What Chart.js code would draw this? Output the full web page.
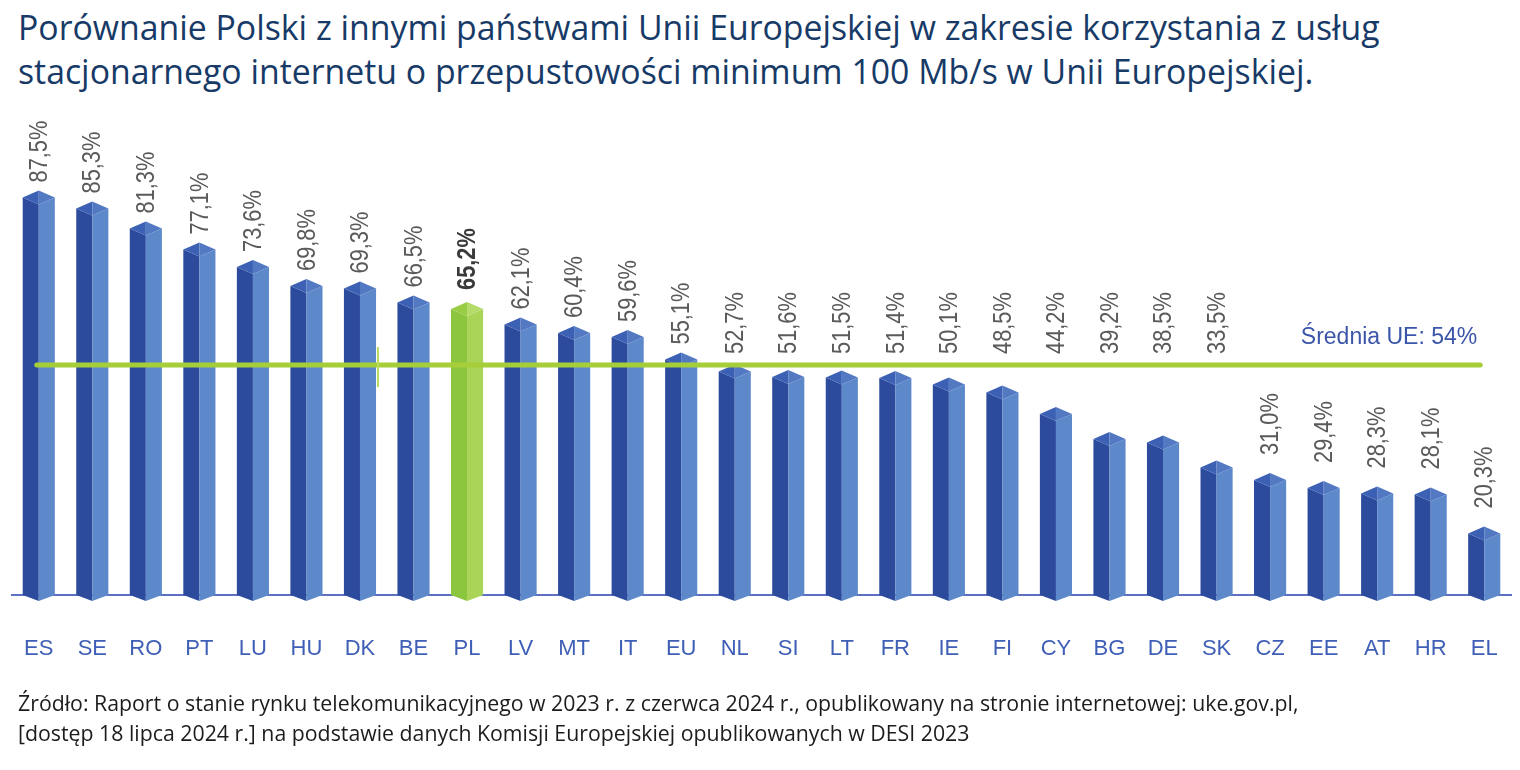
<!DOCTYPE html>
<html lang="pl">
<head>
<meta charset="utf-8">
<script src="https://cdn.jsdelivr.net/npm/chart.js@4/dist/chart.umd.min.js"></script>
<style>
  body { margin: 0; background: #fff; }
  #wrap { position: relative; width: 1520px; height: 770px; overflow: hidden; }
  #chart { position: absolute; left: 0; top: 0; }
  .title {
    position: absolute; left: 18px; top: 5px;
    font-family: "Open Sans", sans-serif; font-size: 33.8px; line-height: 44px;
    color: #173a67; white-space: nowrap;
  }
  .source {
    position: absolute; left: 18px; top: 688px;
    font-family: "Open Sans", sans-serif; font-size: 21.3px; line-height: 30px;
    color: #1c1c1c; white-space: nowrap;
  }
</style>
</head>
<body>
<div id="wrap">
  <div class="title">Porównanie Polski z innymi państwami Unii Europejskiej w zakresie korzystania z usług<br>stacjonarnego internetu o przepustowości minimum 100 Mb/s w Unii Europejskiej.</div>
  <canvas id="chart" width="1520" height="770"></canvas>
  <div class="source">Źródło: Raport o stanie rynku telekomunikacyjnego w 2023 r. z czerwca 2024 r., opublikowany na stronie internetowej: uke.gov.pl,<br>[dostęp 18 lipca 2024 r.] na podstawie danych Komisji Europejskiej opublikowanych w DESI 2023</div>
</div>
<script>
// dane
const countries = ['ES', 'SE', 'RO', 'PT', 'LU', 'HU', 'DK', 'BE', 'PL', 'LV', 'MT', 'IT', 'EU', 'NL',
  'SI', 'LT', 'FR', 'IE', 'FI', 'CY', 'BG', 'DE', 'SK', 'CZ', 'EE', 'AT', 'HR', 'EL'];
const shares = [87.5, 85.3, 81.3, 77.1, 73.6, 69.8, 69.3, 66.5, 65.2, 62.1, 60.4, 59.6, 55.1, 52.7,
  51.6, 51.5, 51.4, 50.1, 48.5, 44.2, 39.2, 38.5, 33.5, 31.0, 29.4, 28.3, 28.1, 20.3];
const euAverage = 54;
const averageLabel = 'Średnia UE: 54%';
const highlighted = 'PL';
const axisStart = 8;

const blueFaces = { left: '#2d4b9d', right: '#5d89cb', capL: '#3c60b3', capR: '#5379c2' };
const greenFaces = { left: '#8cc63f', right: '#a9d457', capL: '#98cc45', capR: '#b4db69' };
const labelFont = '26px "Liberation Sans", Arial, sans-serif';
const labelSquash = 0.84;

function fmt(v) {
  return v.toFixed(1).replace('.', ',') + '%';
}

function poly(ctx, pts, color) {
  ctx.beginPath();
  ctx.moveTo(pts[0][0], pts[0][1]);
  for (let k = 1; k < pts.length; k++) ctx.lineTo(pts[k][0], pts[k][1]);
  ctx.closePath();
  ctx.fillStyle = color;
  ctx.fill();
}

// słupki jako graniastosłupy + etykiety wartości
const prismPlugin = {
  id: 'prism',
  afterDatasetsDraw(chart) {
    const ctx = chart.ctx;
    const meta = chart.getDatasetMeta(0);
    const yAvg = chart.scales.y.getPixelForValue(euAverage);
    const d = 7;
    ctx.save();
    meta.data.forEach((bar, i) => {
      const x0 = bar.x - bar.width / 2, x1 = bar.x + bar.width / 2, xc = bar.x;
      const y = bar.y, b = bar.base;
      const isPL = countries[i] === highlighted;
      const c = isPL ? greenFaces : blueFaces;
      poly(ctx, [[x0, y], [xc, y + d], [xc, b + 6], [x0, b]], c.left);
      poly(ctx, [[xc, y + d], [x1, y], [x1, b], [xc, b + 6]], c.right);
      poly(ctx, [[x0, y], [xc, y - d], [xc, y + d]], c.capL);
      poly(ctx, [[xc, y - d], [x1, y], [xc, y + d]], c.capR);

      const text = fmt(shares[i]);
      ctx.font = (isPL ? 'bold ' : '') + labelFont;
      const len = ctx.measureText(text).width * labelSquash;
      let bottom;
      if (shares[i] >= euAverage) {
        bottom = y - d - (isPL ? 12 : 8);
      } else {
        bottom = y - d - 18;
        if (bottom - len < yAvg + 25) bottom = yAvg - 11;
      }

      ctx.save();
      ctx.translate(xc + 1, bottom);
      ctx.rotate(-Math.PI / 2);
      ctx.scale(labelSquash, 1);
      ctx.fillStyle = isPL ? '#3a3a3a' : '#5a5a5a';
      ctx.textAlign = 'left';
      ctx.textBaseline = 'middle';
      ctx.fillText(text, 0, 0);
      ctx.restore();
    });
    ctx.restore();
  }
};

// linia średniej UE
const averagePlugin = {
  id: 'average',
  afterDatasetsDraw(chart) {
    const ctx = chart.ctx;
    const xs = chart.scales.x, ys = chart.scales.y;
    const yAvg = ys.getPixelForValue(euAverage);
    const xa = xs.getPixelForValue(0) - 2;
    const xb = xs.getPixelForValue(countries.length - 1) - 4;
    ctx.save();
    ctx.strokeStyle = '#a6ce39';
    ctx.lineWidth = 5;
    ctx.lineCap = 'round';
    ctx.beginPath();
    ctx.moveTo(xa, yAvg);
    ctx.lineTo(xb, yAvg);
    ctx.stroke();
    // drobna pionowa kreska przy DK
    const xt = xs.getPixelForValue(6) + 18;
    ctx.lineWidth = 2;
    ctx.lineCap = 'butt';
    ctx.strokeStyle = '#b9dc5e';
    ctx.beginPath();
    ctx.moveTo(xt, yAvg - 18);
    ctx.lineTo(xt, yAvg + 22);
    ctx.stroke();

    ctx.font = '23px "Liberation Sans", Arial, sans-serif';
    ctx.fillStyle = '#3b56a9';
    ctx.textAlign = 'right';
    ctx.textBaseline = 'alphabetic';
    ctx.fillText(averageLabel, xb - 3, yAvg - 21);
    ctx.restore();
  }
};

new Chart(document.getElementById('chart'), {
  type: 'bar',
  data: {
    labels: countries,
    datasets: [{
      data: shares,
      base: axisStart,
      backgroundColor: 'rgba(0,0,0,0)',
      borderWidth: 0,
      barPercentage: 0.6,
      categoryPercentage: 1.0
    }]
  },
  options: {
    responsive: false,
    animation: false,
    events: [],
    layout: { padding: { top: 135, left: 12, right: 9, bottom: 105 } },
    plugins: {
      legend: { display: false },
      tooltip: { enabled: false },
      title: { display: false }
    },
    scales: {
      x: {
        grid: { display: false, drawTicks: false },
        border: { display: true, color: '#5d71c2', width: 2 },
        ticks: {
          padding: 41,
          color: '#3f5fb6',
          font: { family: '"Liberation Sans", Arial, sans-serif', size: 22 },
          maxRotation: 0,
          autoSkip: false
        },
        afterFit(scale) {
          scale.height = 70;
          scale.paddingLeft = 0;
          scale.paddingRight = 0;
        }
      },
      y: {
        display: false,
        min: axisStart,
        max: 100
      }
    }
  },
  plugins: [prismPlugin, averagePlugin]
});
</script>
</body>
</html>
